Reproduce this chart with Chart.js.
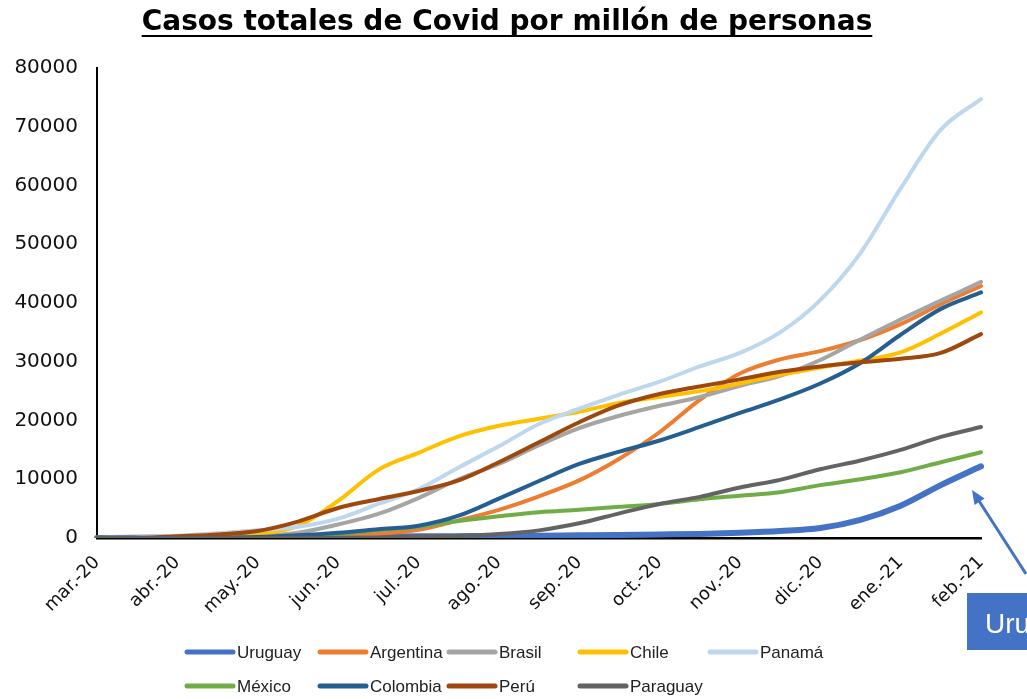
<!DOCTYPE html>
<html><head><meta charset="utf-8">
<script src="https://cdn.jsdelivr.net/npm/chart.js@4.4.1/dist/chart.umd.min.js"></script>
<style>html,body{margin:0;padding:0;background:#fff;}canvas{display:block;}</style>
</head><body>
<canvas id="c" width="1027" height="699"></canvas>
<script>
// ---- data (half-month samples) ----
const dates = ['2020-03-01','2020-03-15','2020-04-01','2020-04-15','2020-05-01','2020-05-15','2020-06-01','2020-06-15',
  '2020-07-01','2020-07-15','2020-08-01','2020-08-15','2020-09-01','2020-09-15','2020-10-01','2020-10-15',
  '2020-11-01','2020-11-15','2020-12-01','2020-12-15','2021-01-01','2021-01-15','2021-02-01'];
const monthLabels = ['mar.-20','abr.-20','may.-20','jun.-20','jul.-20','ago.-20','sep.-20','oct.-20','nov.-20','dic.-20','ene.-21','feb.-21'];
const countries = ['Uruguay','Argentina','Brasil','Chile','Panamá','México','Colombia','Perú','Paraguay'];

const uruguay   = [0,30,100,150,180,200,230,260,280,300,330,380,450,520,600,700,900,1200,1700,3100,5500,9000,12200];
const argentina = [0,5,15,40,90,180,350,700,1400,3000,4800,7100,9800,13500,18000,23500,28000,30400,31800,33700,36400,39800,42900];
const brasil    = [0,10,30,100,300,900,2300,4100,6800,10000,12600,15800,18700,20800,22500,24000,25900,27600,30300,33800,37200,40400,43600];
const chile     = [0,20,150,400,700,2000,6300,11600,14500,17300,19100,20300,21500,23000,24000,25000,26300,27800,29000,30200,31600,34800,38400];
const panama    = [0,100,400,800,1300,1900,3300,5800,8300,12000,15600,19400,22000,24400,26600,29200,31500,35000,40500,48500,59500,69500,74700];
const mexico    = [0,5,20,50,120,300,700,1300,1900,2900,3700,4400,4800,5300,5800,6600,7200,7800,9000,10000,11200,12900,14600];
const colombia  = [0,5,20,50,150,450,900,1500,2100,3800,6700,9700,12600,14700,16600,18900,21300,23600,26300,29800,34600,39000,41800];
const peru      = [0,30,300,600,1200,2800,5100,6600,8000,9800,12900,16300,19700,22600,24500,25800,27000,28300,29200,29900,30500,31500,34700];
const paraguay  = [0,0,5,10,20,30,50,100,250,400,700,1300,2500,4200,5800,7000,8600,9900,11700,13200,15000,17200,18900];

const seriesValues = [uruguay, argentina, brasil, chile, panama, mexico, colombia, peru, paraguay];
const colors = ['#4472C4','#ED7D31','#A5A5A5','#FFC000','#BDD7EE','#70AD47','#255E91','#9E480E','#636363'];
const widths = [6,4,4,4,4,4,4,4,4];

const datasets = countries.map((name, i) => ({
  label: name,
  data: seriesValues[i],
  borderColor: colors[i],
  backgroundColor: colors[i],
  borderWidth: widths[i],
  pointRadius: 0,
  fill: false,
  cubicInterpolationMode: 'monotone',
  order: countries.length - i,
  borderCapStyle: 'round',
  borderJoinStyle: 'round'
}));

const TITLE = 'Casos totales de Covid por millón de personas';

const decorPlugin = {
  id: 'decor',
  afterDraw(chart) {
    const ctx = chart.ctx;
    ctx.save();
    // title with underline
    ctx.font = 'bold 28px "DejaVu Sans", sans-serif';
    ctx.fillStyle = '#000';
    ctx.textAlign = 'center';
    ctx.textBaseline = 'alphabetic';
    const cx = 507, by = 30;
    ctx.fillText(TITLE, cx, by);
    const w = ctx.measureText(TITLE).width;
    ctx.fillRect(cx - w / 2, by + 5, w, 2);

    // legend grid
    const cols = [185, 318, 447, 578, 708];
    const rows = [652, 686];
    ctx.font = '17px "Liberation Sans Narrow", "Liberation Sans", sans-serif';
    ctx.textAlign = 'left';
    ctx.textBaseline = 'middle';
    chart.data.datasets.forEach((ds, i) => {
      const r = i < 5 ? 0 : 1;
      const c = i < 5 ? i : i - 5;
      const x = cols[c], y = rows[r];
      ctx.strokeStyle = ds.borderColor;
      ctx.lineWidth = 5;
      ctx.lineCap = 'round';
      ctx.beginPath();
      ctx.moveTo(x + 2, y);
      ctx.lineTo(x + 48, y);
      ctx.stroke();
      ctx.fillStyle = '#222';
      ctx.fillText(ds.label, x + 52, y + 1);
    });

    // arrow annotation
    ctx.strokeStyle = '#4472C4';
    ctx.fillStyle = '#4472C4';
    ctx.lineWidth = 3;
    ctx.lineCap = 'butt';
    const tx = 972, ty = 490, sx = 1026, sy = 574;
    const ang = Math.atan2(ty - sy, tx - sx);
    ctx.beginPath();
    ctx.moveTo(sx, sy);
    ctx.lineTo(tx - 8 * Math.cos(ang), ty - 8 * Math.sin(ang));
    ctx.stroke();
    ctx.beginPath();
    ctx.moveTo(tx, ty);
    ctx.lineTo(tx - 14 * Math.cos(ang) + 6 * Math.sin(ang), ty - 14 * Math.sin(ang) - 6 * Math.cos(ang));
    ctx.lineTo(tx - 14 * Math.cos(ang) - 6 * Math.sin(ang), ty - 14 * Math.sin(ang) + 6 * Math.cos(ang));
    ctx.closePath();
    ctx.fill();

    // label box
    ctx.fillStyle = '#4472C4';
    ctx.fillRect(967, 593, 70, 57);
    ctx.fillStyle = '#fff';
    ctx.font = '28px "Liberation Sans", sans-serif';
    ctx.textBaseline = 'alphabetic';
    ctx.fillText('Uruguay', 985, 633);
    ctx.restore();
  }
};

new Chart(document.getElementById('c'), {
  type: 'line',
  data: { labels: dates, datasets },
  options: {
    responsive: false,
    animation: false,
    layout: { padding: { top: 68, right: 46, bottom: 0, left: 0 } },
    plugins: { legend: { display: false }, title: { display: false }, tooltip: { enabled: false } },
    scales: {
      x: {
        type: 'category',
        offset: false,
        grid: { display: false, drawTicks: false },
        border: { display: true, color: '#000', width: 2.5 },
        ticks: {
          autoSkip: false, maxRotation: 45, minRotation: 45, padding: 14,
          color: '#111',
          font: { family: '"DejaVu Sans", sans-serif', size: 18 },
          callback: (v, i) => (i % 2 === 0 ? monthLabels[i / 2] : '')
        },
        afterFit: (s) => { s.height = 161; }
      },
      y: {
        min: 0, max: 80000,
        grid: { display: false, drawTicks: false },
        border: { display: true, color: '#000', width: 2 },
        ticks: {
          stepSize: 10000, padding: 19, color: '#111',
          font: { family: '"DejaVu Sans", sans-serif', size: 20 },
          callback: (v) => String(v)
        },
        afterFit: (s) => { s.width = 97; }
      }
    }
  },
  plugins: [decorPlugin]
});
</script>
</body></html>
